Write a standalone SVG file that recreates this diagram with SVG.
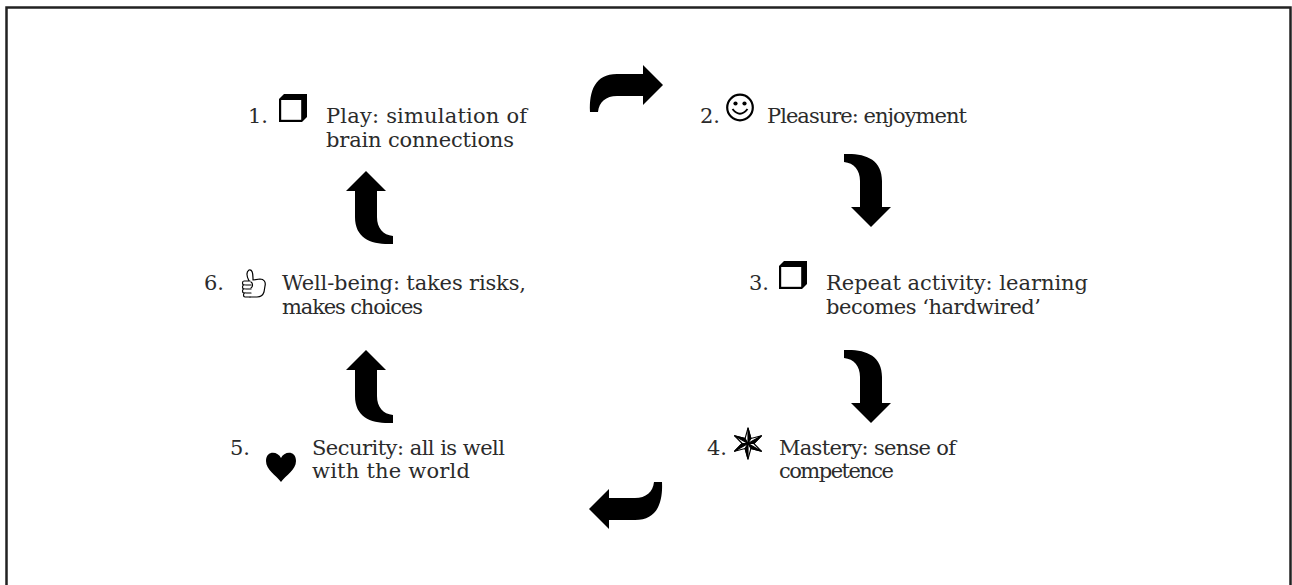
<svg xmlns="http://www.w3.org/2000/svg" xmlns:xlink="http://www.w3.org/1999/xlink" width="1292" height="585" viewBox="0 0 1292 585">
<style>
  .t { font-family: "DejaVu Serif", "Liberation Serif", serif; font-size: 21px; fill: #2b2b2b; }
</style>
<defs>
  <path id="carrow" d="M-27,-73 C-6,-74 11,-68 11,-46 L11,-20 L20,-20 L0,0 L-20,-20 L-11,-20 L-11,-46 C-11,-57 -17,-64 -27,-65 Z" fill="#000"/>
  <g id="box">
    <path d="M0,5 L5,0 L28,0 L28,23 L23,28 L0,28 Z" fill="#000"/>
    <rect x="2.2" y="6" width="20" height="19.8" fill="#fff"/>
  </g>
</defs>
<rect x="6.5" y="7.5" width="1284" height="600" fill="#fff" stroke="#222" stroke-width="2.5"/>

<g id="connectors">
  <use xlink:href="#carrow" transform="translate(663,85) rotate(-90)"/>
  <use xlink:href="#carrow" transform="translate(871,227)"/>
  <use xlink:href="#carrow" transform="translate(871,423)"/>
  <use xlink:href="#carrow" transform="translate(589,509) rotate(90)"/>
  <use xlink:href="#carrow" transform="translate(366,350) rotate(180)"/>
  <use xlink:href="#carrow" transform="translate(366,171) rotate(180)"/>
</g>

<g id="node1">
  <text class="t" x="248" y="123">1.</text>
  <use xlink:href="#box" transform="translate(279,94)"/>
  <text class="t" x="326" y="123" textLength="201">Play: simulation of</text>
  <text class="t" x="326" y="147" textLength="188">brain connections</text>
</g>

<g id="node2">
  <text class="t" x="700" y="123">2.</text>
  <g transform="translate(740,107.5)">
    <circle r="12.8" fill="none" stroke="#000" stroke-width="2.2"/>
    <circle cx="-4.5" cy="-4" r="2.1" fill="#000"/>
    <circle cx="4.5" cy="-4" r="2.1" fill="#000"/>
    <path d="M-7.5,1.5 Q0,11 7.5,1.5" fill="none" stroke="#000" stroke-width="2"/>
  </g>
  <text class="t" x="767" y="123" textLength="200">Pleasure: enjoyment</text>
</g>

<g id="node3">
  <text class="t" x="749" y="290">3.</text>
  <use xlink:href="#box" transform="translate(779,261)"/>
  <text class="t" x="826" y="290" textLength="262">Repeat activity: learning</text>
  <text class="t" x="826" y="314" textLength="215">becomes ‘hardwired’</text>
</g>

<g id="node4">
  <text class="t" x="707" y="455">4.</text>
  <g transform="translate(748,443.5)" stroke="#000" stroke-width="1.1" stroke-linejoin="round">
    <polygon points="0,-15.5 2.9,-5 13.4,-7.75 5.8,0 13.4,7.75 2.9,5 0,15.5 -2.9,5 -13.4,7.75 -5.8,0 -13.4,-7.75 -2.9,-5" fill="#fff"/>
    <polygon points="0,0 0,-15.5 2.9,-5" fill="#000"/>
    <polygon points="0,0 13.4,-7.75 5.8,0" fill="#000"/>
    <polygon points="0,0 13.4,7.75 2.9,5" fill="#000"/>
    <polygon points="0,0 0,15.5 -2.9,5" fill="#000"/>
    <polygon points="0,0 -13.4,7.75 -5.8,0" fill="#000"/>
    <polygon points="0,0 -13.4,-7.75 -2.9,-5" fill="#000"/>
  </g>
  <text class="t" x="779" y="455" textLength="177">Mastery: sense of</text>
  <text class="t" x="779" y="478" textLength="115">competence</text>
</g>

<g id="node5">
  <text class="t" x="230" y="455">5.</text>
  <path transform="translate(281,466)" d="M0,-8 C-3,-15 -15,-16 -15,-5 C-15,4 -5,9 0,16 C5,9 15,4 15,-5 C15,-16 3,-15 0,-8 Z" fill="#000"/>
  <text class="t" x="312" y="455" textLength="193">Security: all is well</text>
  <text class="t" x="312" y="478" textLength="158">with the world</text>
</g>

<g id="node6">
  <text class="t" x="204" y="290">6.</text>
  <g transform="translate(240,269)" fill="#fff" stroke="#000" stroke-width="1.2" stroke-linejoin="round" stroke-linecap="round">
    <path d="M9,12 C7,8 6,3 9,1 C12,0 13,4 13,9 L13,11 L20,10 C24,10 26,13 25,17 L24,23 C23,26 20,28 17,28 L10,28"/>
    <path d="M10,12 L4,12 C2,12 2,16 4,16 L11,16"/>
    <path d="M4,16 C2,16 2,20 4,20 L11,20"/>
    <path d="M4,20 C2,20 2,24 4,24 L11,24"/>
    <path d="M5,24 C3,24 3,28 5,28 L10,28"/>
    <path d="M11,13 C13,14 13,18 11,19" fill="none"/>
  </g>
  <text class="t" x="282" y="290" textLength="244">Well-being: takes risks,</text>
  <text class="t" x="282" y="314" textLength="141">makes choices</text>
</g>
</svg>
